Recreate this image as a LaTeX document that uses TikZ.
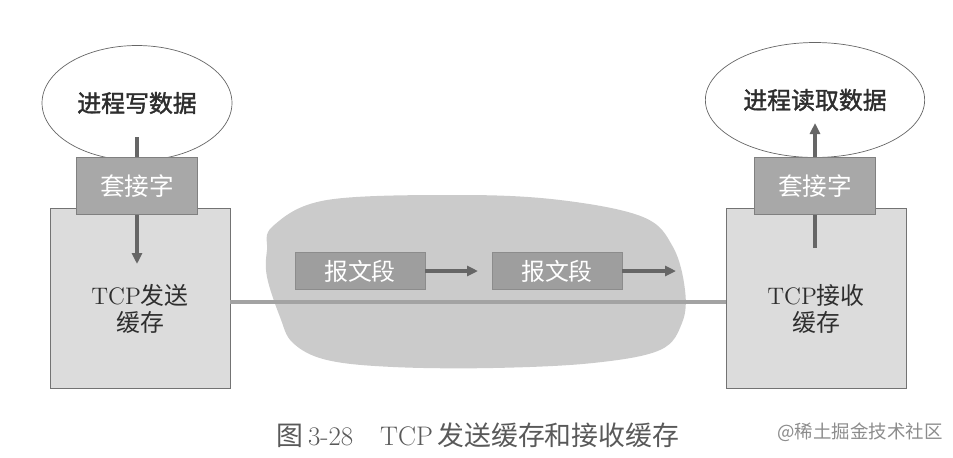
\documentclass[tikz,border=0pt]{standalone}
\usepackage{fontspec}
\newfontfamily\cjk[AutoFakeBold=1.6]{Noto Sans CJK SC}
\usepackage{tikz}
\usetikzlibrary{positioning}
\usetikzlibrary{arrows.meta,shapes.geometric}
\definecolor{linegray}{HTML}{A3A3A3}
\definecolor{arrowgray}{HTML}{666666}
\definecolor{boxgray}{HTML}{DCDCDC}
\definecolor{sockgray}{HTML}{A8A8A8}
\definecolor{seggray}{HTML}{9E9E9E}
\definecolor{cloudgray}{HTML}{CBCBCB}
\definecolor{textgray}{HTML}{2E2E2E}
\tikzstyle{process}=[ellipse,draw=black!60,fill=white,minimum width=3.8cm,minimum height=2.3cm,font=\fontsize{13.6}{16}\selectfont\cjk\bfseries,text=textgray]
\tikzstyle{buffer}=[rectangle,draw=black!55,fill=boxgray,minimum width=3.6cm,minimum height=3.6cm]
\tikzstyle{socket}=[rectangle,draw=black!50,fill=sockgray,minimum width=2.42cm,minimum height=1.14cm,font=\fontsize{14}{16}\selectfont\cjk,text=white]
\tikzstyle{segment}=[rectangle,draw=black!45,fill=seggray,minimum width=2.6cm,minimum height=0.74cm,font=\fontsize{13.6}{16}\selectfont\cjk,text=white]
\tikzstyle{flow}=[line width=0.08cm,draw=arrowgray,-{Triangle[length=0.22cm,width=0.2cm]}]

\begin{document}
\begin{tikzpicture}[x=0.02cm,y=-0.02cm]

      \useasboundingbox (0, 0) rectangle (953, 457);
      \tikzstyle{every node}=[font=\fontsize{13.6}{16}\selectfont,text=textgray]

      % network cloud
      \fill[cloudgray] plot[smooth cycle,tension=0.6] coordinates {(267,250) (273,226) (327,200) (460,195) (560,200) (643,217) (673,247) (685,290) (682,323) (660,350) (593,363) (493,368) (393,367) (327,360) (293,343) (280,317) (267,277)};

      % sending side
      \node[process] (process_write) at (137, 103) {进程写数据};
      \node[buffer] (buffer_send) at (140, 298) {};
      \node[align=center] (text_send) at (140, 309) {TCP{\cjk 发送}\\[-1pt]{\cjk 缓存}};
      \coordinate (write_start) at (137, 137);
      \coordinate (write_end) at (137, 264);
      \draw[flow] (write_start) -- (write_end);
      \node[socket] (socket_send) at (137, 186) {套接字};

      % receiving side
      \node[process] (process_read) at (815, 100) {进程读取数据};
      \node[buffer] (buffer_recv) at (816, 298) {};
      \node[align=center] (text_recv) at (816, 309) {TCP{\cjk 接收}\\[-1pt]{\cjk 缓存}};
      \coordinate (read_start) at (815, 248);
      \coordinate (read_end) at (815, 123);
      \draw[flow] (read_start) -- (read_end);
      \node[socket] (socket_recv) at (815, 186) {套接字};

      % link between the buffers
      \draw[linegray, line width=0.08cm] ([yshift=-0.08cm]buffer_send.east) -- ([yshift=-0.08cm]buffer_recv.west);

      % segments on the way
      \node[segment] (segment_1) at (360, 271) {报文段};
      \node[segment] (segment_2) at (557, 271) {报文段};
      \coordinate (segment_1_end) at (478, 271);
      \coordinate (segment_2_end) at (676, 271);
      \draw[flow] (segment_1) -- (segment_1_end);
      \draw[flow] (segment_2) -- (segment_2_end);

      % caption
      \node[font=\fontsize{15.3}{18}\selectfont,text=black!65] (caption) at (478, 435) {{\cjk 图}\,3-28\quad TCP\,{\cjk 发送缓存和接收缓存}};
      \node[font=\fontsize{10.5}{12}\selectfont\cjk,text=black!45] (watermark) at (860, 432) {@稀土掘金技术社区};
    \end{tikzpicture}
\end{document}
